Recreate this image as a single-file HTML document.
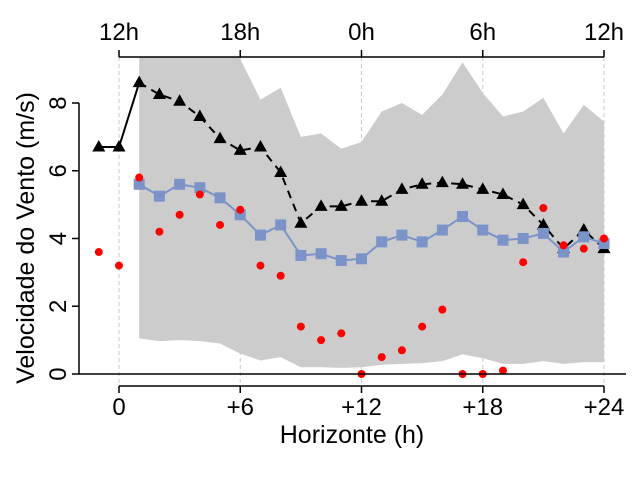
<!DOCTYPE html>
<html><head><meta charset="utf-8"><style>body{margin:0;background:#fff}svg{font-family:"Liberation Sans",sans-serif}</style></head>
<body>
<svg id="c" width="640" height="480" viewBox="0 0 640 480"></svg>
<script>
const hours=[-1,0,1,2,3,4,5,6,7,8,9,10,11,12,13,14,15,16,17,18,19,20,21,22,23,24];
const blackVals=[6.7,6.7,8.6,8.25,8.05,7.6,6.95,6.6,6.7,5.95,4.45,4.95,4.95,5.1,5.1,5.45,5.6,5.65,5.6,5.45,5.3,5.0,4.4,3.7,4.25,3.7];
const blueHours=[1,2,3,4,5,6,7,8,9,10,11,12,13,14,15,16,17,18,19,20,21,22,23,24];
const blueVals=[5.6,5.25,5.6,5.5,5.2,4.7,4.1,4.4,3.5,3.55,3.35,3.4,3.9,4.1,3.9,4.25,4.65,4.25,3.95,4.0,4.15,3.6,4.05,3.85];
const redVals=[3.6,3.2,5.8,4.2,4.7,5.3,4.4,4.85,3.2,2.9,1.4,1.0,1.2,0.0,0.5,0.7,1.4,1.9,0.0,0.0,0.1,3.3,4.9,3.8,3.7,4.0];
const bandUpper=[10,10,10,10,10,9.3,8.1,8.45,7.0,7.1,6.65,6.85,7.75,8.0,7.65,8.25,9.2,8.3,7.6,7.75,8.15,7.1,7.95,7.45];
const bandLower=[1.05,0.97,1.0,0.97,0.9,0.6,0.4,0.5,0.2,0.2,0.18,0.2,0.27,0.3,0.32,0.38,0.58,0.47,0.3,0.3,0.38,0.3,0.35,0.35];
const xTicks=[0,6,12,18,24];
const xTickLabels=["0","+6","+12","+18","+24"];
const topTickLabels=["12h","18h","0h","6h","12h"];
const yTicks=[0,2,4,6,8];

const X=h=>119+h*(604-119)/24;
const Y=v=>374-v*(374-103)/8;
const svg=document.getElementById('c');
const NS='http://www.w3.org/2000/svg';
function mk(tag,attrs,parent){const e=document.createElementNS(NS,tag);for(const k in attrs)e.setAttribute(k,attrs[k]);(parent||svg).appendChild(e);return e;}

const defs=mk('defs',{});
const cp=mk('clipPath',{id:'plot'},defs);
mk('rect',{x:79,y:57,width:547,height:329},cp);

// grid verticals (under band)
xTicks.forEach(t=>{const l=mk('line',{x1:X(t),x2:X(t),y1:57,y2:386,stroke:'#c8c8c8','stroke-dasharray':'4,3'});

});

const g=mk('g',{'clip-path':'url(#plot)'});

// band
let pts=blueHours.map((h,i)=>X(h)+','+Y(bandUpper[i]));
pts=pts.concat(blueHours.map((h,i)=>X(h)+','+Y(bandLower[i])).reverse());
const band=mk('polygon',{points:pts.join(' '),fill:'#cccccc'},g);



mk('line',{x1:79,x2:626,y1:374,y2:374,stroke:'#000','stroke-width':1.5});

// black line
const bl1=mk('polyline',{points:hours.slice(0,3).map((h,i)=>X(h)+','+Y(blackVals[i])).join(' '),fill:'none',stroke:'#000','stroke-width':2},g);


const bl2=mk('polyline',{points:hours.slice(2).map((h,i)=>X(h)+','+Y(blackVals[i+2])).join(' '),fill:'none',stroke:'#000','stroke-width':2,'stroke-dasharray':'8,6'},g);


hours.forEach((h,i)=>{const x=X(h),y=Y(blackVals[i]);
const t=mk('polygon',{points:`${x},${y-7} ${x-6.5},${y+4.5} ${x+6.5},${y+4.5}`,fill:'#000'},g);

});

// blue
const bu=mk('polyline',{points:blueHours.map((h,i)=>X(h)+','+Y(blueVals[i])).join(' '),fill:'none',stroke:'#7b93c8','stroke-width':2},g);


blueHours.forEach((h,i)=>{const s=mk('rect',{x:X(h)-5.5,y:Y(blueVals[i])-5.5,width:11,height:11,fill:'#7b93c8'},g);

});

// red
hours.forEach((h,i)=>{const c=mk('circle',{cx:X(h),cy:Y(redVals[i]),r:4,fill:'#ff0000'},g);

});

// axes
mk('line',{x1:79,x2:79,y1:103,y2:374,stroke:'#000','stroke-width':1.5});
yTicks.forEach(v=>{mk('line',{x1:72,x2:79,y1:Y(v),y2:Y(v),stroke:'#000','stroke-width':1.5});
const t=mk('text',{x:58,y:Y(v)+8,'font-size':24,'text-anchor':'middle',transform:`rotate(-90 58 ${Y(v)})`});t.textContent=v;

});
mk('line',{x1:119,x2:604,y1:386,y2:386,stroke:'#000','stroke-width':1.5});
mk('line',{x1:119,x2:604,y1:57,y2:57,stroke:'#000','stroke-width':1.5});
xTicks.forEach((t,i)=>{mk('line',{x1:X(t),x2:X(t),y1:386,y2:393,stroke:'#000','stroke-width':1.5});
mk('line',{x1:X(t),x2:X(t),y1:50,y2:57,stroke:'#000','stroke-width':1.5});
const b=mk('text',{x:X(t),y:415,'font-size':24,'text-anchor':'middle'});b.textContent=xTickLabels[i];


const u=mk('text',{x:X(t),y:40,'font-size':24,'text-anchor':'middle'});u.textContent=topTickLabels[i];

});
const xt=mk('text',{x:352,y:443,'font-size':25,'text-anchor':'middle'});xt.textContent='Horizonte (h)';


const yt=mk('text',{x:0,y:0,'font-size':25,'text-anchor':'middle',transform:'translate(34,238) rotate(-90)'});yt.textContent='Velocidade do Vento (m/s)';


</script>
</body></html>
